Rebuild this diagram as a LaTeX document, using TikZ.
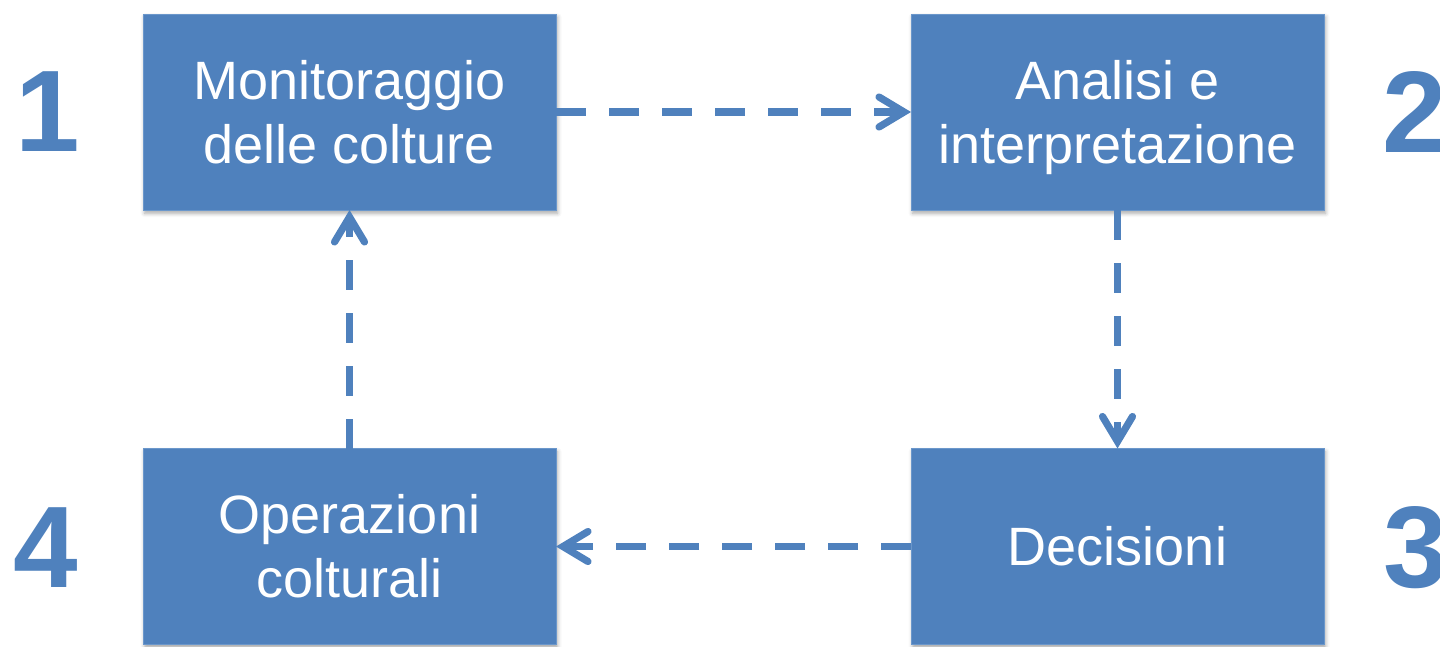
\documentclass[tikz,border=0pt]{standalone}
\usepackage{fontspec}
\setmainfont{Liberation Sans}
\usetikzlibrary{arrows.meta,shadows.blur}
\definecolor{boxblue}{HTML}{4F81BD}
\definecolor{edgeblue}{HTML}{6B97CB}
\tikzset{
  stepbox/.style={rectangle, fill=boxblue, draw=edgeblue, line width=0.4pt,
    minimum width=206.5pt, minimum height=98pt, inner sep=0pt, outer sep=0pt,
    text=white, align=center, font=\fontsize{27}{32}\selectfont,
    blur shadow={shadow xshift=0.8pt, shadow yshift=-1.6pt,
      shadow blur radius=2pt, shadow opacity=35}},
  stepnum/.style={text=boxblue, inner sep=0pt,
    font=\fontsize{58}{70}\selectfont\bfseries},
  flow/.style={draw=boxblue, line width=3.6pt, dash pattern=on 15pt off 11.5pt,
    -{Straight Barb[length=12.5pt, width=15pt, line cap=round, line join=miter]}}
}
\begin{document}
\begin{tikzpicture}[x=0.5pt, y=-0.5pt]
  \useasboundingbox (0,0) rectangle (1440,647);
  \clip (0,0) rectangle (1440,647);

  % the four stages of the cycle
  \node[stepbox] (b1) at (349.5,112) {Monitoraggio\\delle colture};
  \node[stepbox] (b2) at (1117.5,112) {Analisi e\\\raisebox{0pt}[\height][0pt]{interpretazione}};
  \node[stepbox] (b3) at (1117.5,546.5) {Decisioni};
  \node[stepbox] (b4) at (349.5,546.5) {Operazioni\\colturali};

  % stage numbers
  \node[stepnum] (n1) at (48,112) {1};
  \node[stepnum] (n2) at (1415,112.5) {2};
  \node[stepnum] (n3) at (1416,547.5) {3};
  \node[stepnum] (n4) at (46,547.5) {4};

  % dashed connectors closing the loop
  \draw[flow] (b1.east) -- (b2.west);
  \draw[flow] (b2.south) -- (b3.north);
  \draw[flow] (b3.west) -- (b4.east);
  \draw[flow] (b4.north) -- (b1.south);
\end{tikzpicture}
\end{document}
